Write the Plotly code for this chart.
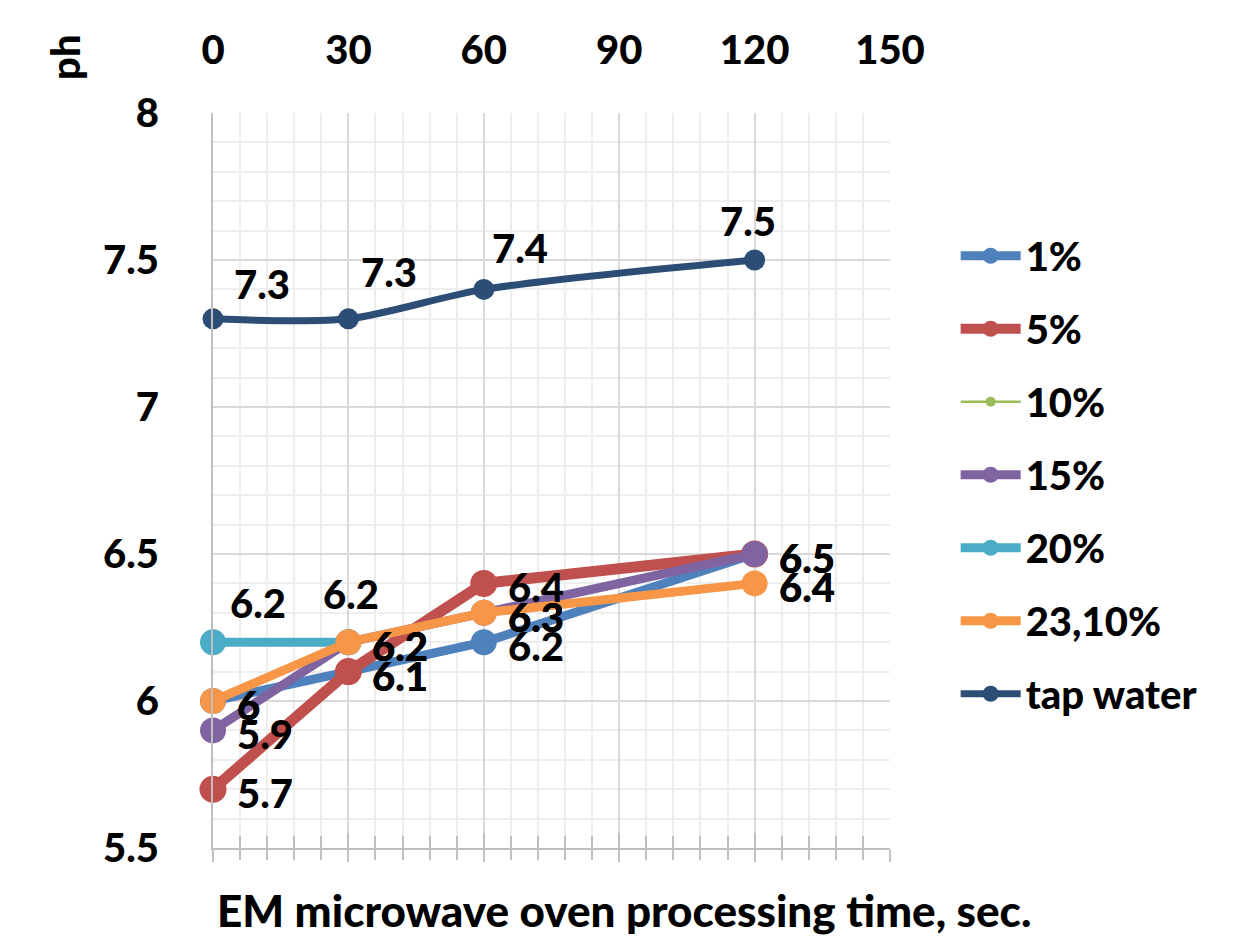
import plotly.graph_objects as go

# ---- data ----
times = [0, 30, 60, 120]
s_1 = [6.0, 6.1, 6.2, 6.5]
s_5 = [5.7, 6.1, 6.4, 6.5]
s_10 = [6.0, 6.2, 6.3, 6.4]
s_15 = [5.9, 6.2, 6.3, 6.5]
s_20 = [6.2, 6.2, None, None]
s_23 = [6.0, 6.2, 6.3, 6.4]
s_tap = [7.3, 7.3, 7.4, 7.5]

series_names = ["1%", "5%", "10%", "15%", "20%", "23,10%", "tap water"]
series_values = [s_1, s_5, s_10, s_15, s_20, s_23, s_tap]

x_ticks = [0, 30, 60, 90, 120, 150]
y_ticks = [5.5, 6, 6.5, 7, 7.5, 8]
y_ticktext = ["5.5", "6", "6.5", "7", "7.5", "8"]

x_title = "EM microwave oven processing time, sec."
y_title = "ph"

# ---- styles ----
FONT = "Lato"
W = 900
colors = ["#4F81BD", "#C0504D", "#9BBB59", "#8064A2", "#4BACC6", "#F79646", "#2C4D75"]
widths = [9, 11, 2.5, 9, 9, 9, 7]
msizes = [26, 27, 10, 26, 26, 26, 21]
shapes = ["linear"] * 6 + ["spline"]

fig = go.Figure()
for i, (name, vals) in enumerate(zip(series_names, series_values)):
    fig.add_trace(go.Scatter(
        x=times, y=vals, name=name, mode="lines+markers",
        line=dict(color=colors[i], width=widths[i], shape=shapes[i], smoothing=0.8),
        marker=dict(color=colors[i], size=msizes[i]),
        cliponaxis=False, legendgroup=name, connectgaps=False,
    ))

# data labels
label_font = dict(family=FONT, size=40, color="black", weight=W)
annotations = []
right_series = [0, 1, 2, 3, 5]
for i in right_series:
    for x, v in zip(times, series_values[i]):
        if v is None:
            continue
        annotations.append(dict(x=x, y=v, xref="x", yref="y", text=f"{v:g}",
                                showarrow=False, xanchor="left", yanchor="middle",
                                xshift=22, yshift=-4, font=label_font))
# 20% labels (above)
off20 = [(45, 39), (3, 48)]
for (x, v), (dx, dy) in zip(zip(times, s_20), off20):
    annotations.append(dict(x=x, y=v, xref="x", yref="y", text=f"{v:g}",
                            showarrow=False, xanchor="center", yanchor="middle",
                            xshift=dx, yshift=dy, font=label_font))
# tap water labels
offtap = [(49, 35), (41, 47), (36, 41), (-7, 39)]
for (x, v), (dx, dy) in zip(zip(times, s_tap), offtap):
    annotations.append(dict(x=x, y=v, xref="x", yref="y", text=f"{v:g}",
                            showarrow=False, xanchor="center", yanchor="middle",
                            xshift=dx, yshift=dy, font=label_font))

# axis titles
annotations.append(dict(x=0.607, y=-0.084, xref="paper", yref="paper", text=x_title,
                        showarrow=False, xanchor="center", yanchor="middle",
                        font=dict(family=FONT, size=44, color="black", weight=W)))
annotations.append(dict(x=-0.219, y=1.076, xref="paper", yref="paper", text=y_title,
                        showarrow=False, xanchor="center", yanchor="middle", textangle=-90,
                        font=dict(family=FONT, size=40, color="black", weight=W)))

tickfont = dict(family=FONT, size=40, color="black", weight=W)
AX = "#BFBFBF"

fig.update_layout(
    width=1246, height=940,
    margin=dict(l=213, r=356, t=113, b=92),
    paper_bgcolor="white", plot_bgcolor="white",
    showlegend=True,
    legend=dict(x=1.097, y=0.850, xanchor="left", yanchor="top",
                font=dict(family=FONT, size=40, color="black", weight=W),
                tracegroupgap=18, itemwidth=60, bgcolor="rgba(0,0,0,0)"),
    annotations=annotations,
    xaxis=dict(range=[0, 150], tickvals=x_ticks, showticklabels=False,
               showgrid=True, gridcolor="#D9D9D9", gridwidth=1.5,
               showline=True, linecolor=AX, linewidth=2,
               ticks="outside", ticklen=12, tickcolor=AX, tickwidth=2,
               minor=dict(dtick=6, showgrid=True, gridcolor="#EEEEEE", gridwidth=1.5,
                          ticks="outside", ticklen=10, tickcolor=AX, tickwidth=1.5),
               zeroline=False, fixedrange=True),
    xaxis2=dict(range=[0, 150], overlaying="x", side="top", tickvals=x_ticks,
                ticktext=[str(t) for t in x_ticks], tickfont=tickfont,
                showgrid=False, showline=False, ticks="", ticklabelstandoff=40,
                zeroline=False, anchor="y"),
    xaxis3=dict(range=[0, 150], overlaying="x", side="bottom", tickvals=x_ticks,
                showticklabels=False, showgrid=False, showline=False,
                ticks="inside", ticklen=15, tickcolor=AX, tickwidth=2,
                minor=dict(dtick=6, ticks="inside", ticklen=12, tickcolor=AX, tickwidth=1.5,
                           showgrid=False),
                zeroline=False, anchor="y"),
    yaxis=dict(range=[5.5, 8], tickvals=y_ticks, ticktext=y_ticktext, tickfont=tickfont,
               showgrid=True, gridcolor="#D9D9D9", gridwidth=1.5,
               showline=True, linecolor=AX, linewidth=2, ticks="",
               ticklabelstandoff=44,
               minor=dict(dtick=0.1, showgrid=True, gridcolor="#EEEEEE", gridwidth=1.5),
               zeroline=False),
)

# invisible helpers so the overlay axes get drawn
fig.add_trace(go.Scatter(x=[None], y=[None], xaxis="x2", yaxis="y", showlegend=False,
                         hoverinfo="skip"))
fig.add_trace(go.Scatter(x=[None], y=[None], xaxis="x3", yaxis="y", showlegend=False,
                         hoverinfo="skip"))

fig.write_html("out.html")
